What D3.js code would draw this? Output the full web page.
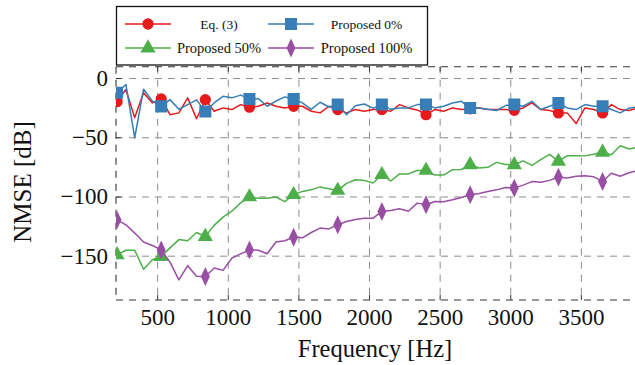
<!DOCTYPE html>
<html>
<head>
<meta charset="utf-8">
<script src="https://cdn.jsdelivr.net/npm/d3@7"></script>
<style>
  body { margin: 0; background: #fff; }
  svg text { font-family: "Liberation Serif", "DejaVu Serif", serif; fill: #111; }
</style>
</head>
<body>
<svg class="chart" width="635" height="365"></svg>
<script>
var freq = [212.5, 275, 337.5, 400, 462.5, 525, 587.5, 650, 712.5, 775,
  837.5, 900, 962.5, 1025, 1087.5, 1150, 1212.5, 1275, 1337.5, 1400,
  1462.5, 1525, 1587.5, 1650, 1712.5, 1775, 1837.5, 1900, 1962.5, 2025,
  2087.5, 2150, 2212.5, 2275, 2337.5, 2400, 2462.5, 2525, 2587.5, 2650,
  2712.5, 2775, 2837.5, 2900, 2962.5, 3025, 3087.5, 3150, 3212.5, 3275,
  3337.5, 3400, 3462.5, 3525, 3587.5, 3650, 3712.5, 3775, 3837.5, 3900];

var eq3 = [-19.5, -9.3, -33, -12, -20.6, -17.2, -30.5, -29, -16.3, -34,
  -17.8, -27.6, -24.8, -26.2, -22, -24.2, -23.4, -20.6, -23.4, -24.8,
  -23.4, -23.4, -27.6, -29, -23.4, -26.2, -29, -26.2, -27.6, -26.2,
  -26.2, -27.6, -22, -24.8, -26.5, -30.5, -26.2, -27.6, -24.8, -26.2,
  -25.6, -24.8, -26.2, -26.2, -26.2, -26.8, -24.8, -20.6, -26.2, -27,
  -29, -29, -38, -24.8, -26.2, -29, -22, -26.2, -27, -24.8];

var prop0 = [-12, -5, -50, -9, -19, -23.5, -17.8, -26, -22, -18,
  -27.8, -20.6, -15, -16.3, -14, -17.2, -17, -23.4, -19, -15.5,
  -17.2, -20.6, -26, -20, -24, -22, -30.5, -23, -21.5, -25,
  -22, -26, -24.8, -24.8, -22, -22, -24.8, -23.4, -20.6, -19.2,
  -24.8, -24.8, -26, -27, -22.8, -22, -23.4, -19.2, -26.2, -23.4,
  -20.6, -24.8, -26.2, -22, -23.4, -23.4, -26.2, -29, -25, -24];

var prop50 = [-148.9, -145, -145, -161, -153, -150.3, -143, -136, -137, -130,
  -133.4, -124, -117, -112, -105, -100, -101, -101, -100, -104,
  -98.1, -95.3, -94, -91.5, -93, -94.5, -88.5, -85.5, -86, -88.2,
  -81.2, -86.5, -80.5, -80.5, -77.6, -77.6, -81.5, -81.5, -77, -76.8,
  -72.8, -75.5, -75, -70.8, -72.5, -72.8, -69.5, -73.3, -68.5, -64,
  -70, -65.1, -65.1, -65.3, -64, -62.3, -64.3, -56.7, -59.5, -57.8];

var prop100 = [-119.3, -123.5, -130.5, -138, -141, -144.7, -155, -170, -158, -167,
  -167.2, -160, -162, -151.7, -148, -144.7, -145, -148, -138, -137,
  -134, -134.5, -130, -126.3, -127, -123.5, -120.7, -119, -118, -117.9,
  -112.3, -111.5, -110, -112, -105.2, -106.6, -103.8, -104, -102.4, -100.5,
  -98.1, -97, -95.3, -94, -92, -92.5, -90, -87, -87.5, -86,
  -83.2, -84, -82.5, -82, -83, -86.9, -80, -82.5, -79.5, -77.6];

var seriesNames = ['Eq. (3)', 'Proposed 0%', 'Proposed 50%', 'Proposed 100%'];
var xTicks = [500, 1000, 1500, 2000, 2500, 3000, 3500];
var yTicks = [0, -50, -100, -150];
var yTickLabels = ['0', '\u221250', '\u2212100', '\u2212150'];

var colors = ['#e41a1c', '#377eb8', '#4daf4a', '#984ea3'];
var symbols = [d3.symbolCircle, d3.symbolSquare, d3.symbolTriangle, d3.symbolDiamond];
var symSizes = [100, 145, 100, 85];

// plot box (right edge runs past the picture)
var pLeft = 116, pTop = 66.7, pBottom = 300, pRight = 652;

var x = d3.scaleLinear().domain([205, 4000]).range([pLeft, pRight]);
var y = d3.scaleLinear().domain([-187, 10]).range([pBottom, pTop]);

var svg = d3.select('svg.chart');

svg.append('defs').append('clipPath')
  .attr('id', 'plotclip')
  .append('rect')
    .attr('x', pLeft).attr('y', pTop - 10)
    .attr('width', pRight - pLeft).attr('height', pBottom - pTop + 20);

// grid
var grid = svg.append('g').attr('class', 'grid')
  .attr('stroke', '#8c8c8c').attr('stroke-width', 1).attr('stroke-dasharray', '7,6');

grid.selectAll('line.vx')
  .data(xTicks)
    .enter()
      .append('line')
        .attr('x1', function(d) { return x(d); })
        .attr('x2', function(d) { return x(d); })
        .attr('y1', pTop).attr('y2', pBottom);

grid.selectAll('line.hy')
  .data(yTicks)
    .enter()
      .append('line')
        .attr('x1', pLeft).attr('x2', pRight)
        .attr('y1', function(d) { return y(d); })
        .attr('y2', function(d) { return y(d); });

// dashed frame
var frame = svg.append('g')
  .attr('stroke', '#333').attr('stroke-width', 1.1).attr('stroke-dasharray', '7,6');
frame.append('line').attr('x1', pLeft).attr('x2', pRight).attr('y1', pTop).attr('y2', pTop);
frame.append('line').attr('x1', pLeft).attr('x2', pRight).attr('y1', pBottom).attr('y2', pBottom);
frame.append('line').attr('x1', pLeft).attr('x2', pLeft).attr('y1', pTop).attr('y2', pBottom);

// inner ticks
var ticks = svg.append('g').attr('stroke', '#333').attr('stroke-width', 1);
xTicks.forEach(function(t) {
  ticks.append('line').attr('x1', x(t)).attr('x2', x(t)).attr('y1', pBottom).attr('y2', pBottom - 5);
  ticks.append('line').attr('x1', x(t)).attr('x2', x(t)).attr('y1', pTop).attr('y2', pTop + 5);
});
yTicks.forEach(function(t) {
  ticks.append('line').attr('x1', pLeft).attr('x2', pLeft + 5).attr('y1', y(t)).attr('y2', y(t));
});

// tick labels
svg.append('g')
  .selectAll('text')
  .data(xTicks)
    .enter()
      .append('text')
        .attr('x', function(d) { return x(d); })
        .attr('y', 325)
        .attr('text-anchor', 'middle')
        .attr('font-size', 23)
        .text(function(d) { return d; });

svg.append('g')
  .selectAll('text')
  .data(yTicks)
    .enter()
      .append('text')
        .attr('x', 108)
        .attr('y', function(d) { return y(d) + 7.5; })
        .attr('text-anchor', 'end')
        .attr('font-size', 23)
        .text(function(d, i) { return yTickLabels[i]; });

// axis titles
svg.append('text')
  .attr('x', 375).attr('y', 357)
  .attr('text-anchor', 'middle')
  .attr('font-size', 24.5)
  .text('Frequency [Hz]');

svg.append('text')
  .attr('transform', 'translate(31,182) rotate(-90)')
  .attr('text-anchor', 'middle')
  .attr('font-size', 25)
  .text('NMSE [dB]');

// series
var allSeries = [eq3, prop0, prop50, prop100];
var line = d3.line()
  .x(function(d, i) { return x(freq[i]); })
  .y(function(d) { return y(d); });

var plot = svg.append('g').attr('clip-path', 'url(#plotclip)');

allSeries.forEach(function(vals, k) {
  var g = plot.append('g').attr('class', 'series');
  g.append('path')
    .attr('d', line(vals))
    .attr('fill', 'none')
    .attr('stroke', colors[k])
    .attr('stroke-width', 1.5)
    .attr('stroke-linejoin', 'round');

  // a mark every 5th point
  g.selectAll('path.mark')
    .data(vals.filter(function(d, i) { return i % 5 === 0; }))
      .enter()
        .append('path')
          .attr('class', 'mark')
          .attr('d', d3.symbol().type(symbols[k]).size(symSizes[k]))
          .attr('transform', function(d, i) {
            var sy = k === 3 ? ' scale(0.9,1.1)' : '';
            return 'translate(' + x(freq[i * 5]) + ',' + y(d) + ')' + sy;
          })
          .attr('fill', colors[k]);
});

// legend
var legend = svg.append('g').attr('class', 'legend');
legend.append('rect')
  .attr('x', 116.5).attr('y', 6.5)
  .attr('width', 311).attr('height', 58.5)
  .attr('fill', '#fff')
  .attr('stroke', '#111')
  .attr('stroke-width', 1.3);

var legendPos = [
  { lx: 125, ly: 24, tx: 219, fs: 13.5 },
  { lx: 268, ly: 24, tx: 366.5, fs: 13.5 },
  { lx: 125, ly: 48, tx: 219, fs: 14.5 },
  { lx: 268, ly: 48, tx: 366.5, fs: 14.5 }
];

legend.selectAll('g.entry')
  .data(seriesNames)
    .enter()
      .append('g')
        .attr('class', 'entry')
        .each(function(name, k) {
          var p = legendPos[k];
          var e = d3.select(this);
          e.append('line')
            .attr('x1', p.lx).attr('x2', p.lx + 46)
            .attr('y1', p.ly).attr('y2', p.ly)
            .attr('stroke', colors[k]).attr('stroke-width', 1.5);
          e.append('path')
            .attr('d', d3.symbol().type(symbols[k]).size(symSizes[k]))
            .attr('transform', 'translate(' + (p.lx + 23) + ',' + p.ly + ')' + (k === 3 ? ' scale(0.9,1.1)' : ''))
            .attr('fill', colors[k]);
          e.append('text')
            .attr('x', p.tx).attr('y', p.ly + 5)
            .attr('text-anchor', 'middle')
            .attr('font-size', p.fs)
            .text(name);
        });
</script>
</body>
</html>
